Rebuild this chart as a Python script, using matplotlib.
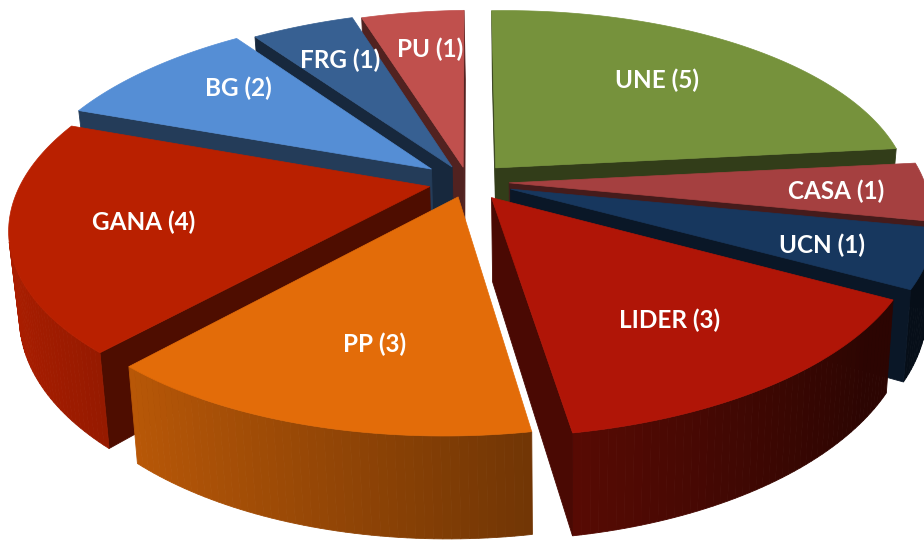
import numpy as np
import matplotlib
matplotlib.use("Agg")
import matplotlib.pyplot as plt
from matplotlib.colors import to_rgb

labels = ["UNE", "CASA", "UCN", "LIDER", "PP", "GANA", "BG", "FRG", "PU"]
seats = [5, 1, 1, 3, 3, 4, 2, 1, 1]
colors = ["#76923c", "#a54040", "#17375e", "#b01507", "#e36c09", "#b92000", "#558ed5", "#376092", "#c0504d"]
explode = [0.10, 0.10, 0.11, 0.10, 0.08, 0.095, 0.115, 0.09, 0.08]
label_r = [0.62, 0.85, 0.85, 0.62, 0.62, 0.72, 0.78, 0.85, 0.85]
label_nudge = [(5, -7), (-28, 1), (-40, -2), (14, 14), (3, 16), (14, 0), (32, -1), (18, 16), (11, 17)]
draw_order = [8, 7, 0, 6, 1, 2, 5, 3, 4]

CX, CY, RX, RY, P, H, TAPER, TILT = 468, 182, 412, 190, 0.18, 83, 0.02, 0.018
START = 0.5


def project(x, y, drop=0.0):
    w = 1 + P * y
    k = 1 - TAPER * (drop > 0)
    px = CX + k * RX * x / w
    py = CY - RY * y / w + drop / w
    return px + TILT * (py - CY), py - TILT * (px - CX)


def shade(col, f):
    return tuple(np.clip(np.array(to_rgb(col)) * f, 0, 1))


fig = plt.figure(figsize=(9.24, 5.40), dpi=100)
ax = fig.add_axes([0, 0, 1, 1])
ax.set_xlim(0, 924)
ax.set_ylim(540, 0)
ax.axis("off")

total = sum(seats)
edges = np.deg2rad(START + np.cumsum([0] + seats) / total * 360)

for i in draw_order:
    a0, a1 = edges[i], edges[i + 1]
    mid = (a0 + a1) / 2
    ox, oy = explode[i] * np.sin(mid), explode[i] * np.cos(mid)
    th = np.linspace(a0, a1, max(int(np.degrees(a1 - a0)), 6))
    wx = np.r_[ox, ox + np.sin(th)]
    wy = np.r_[oy, oy + np.cos(th)]
    n = len(wx)
    tx, ty = project(wx, wy)
    bx, by = project(wx, wy, H)
    col = colors[i]
    for j in range(n):
        k = (j + 1) % n
        qx = [tx[j], tx[k], bx[k], bx[j]]
        qy = [ty[j], ty[k], by[k], by[j]]
        area = 0.5 * sum(qx[m] * qy[(m + 1) % 4] - qx[(m + 1) % 4] * qy[m] for m in range(4))
        if area >= 0:
            continue
        if j == 0 or k == 0:
            f = 0.42
        else:
            ang = (th[j - 1] + th[min(j, len(th) - 1)]) / 2
            f = np.clip(0.55 - 0.38 * np.sin(ang), 0.25, 0.92)
        c = shade(col, f)
        ax.fill(qx, qy, color=c, lw=0.6, ec=c, zorder=1)
    ax.fill(tx, ty, color=col, lw=0.5, ec=col, zorder=1)
    rr = label_r[i]
    lx, ly = project(ox + rr * np.sin(mid), oy + rr * np.cos(mid))
    ax.text(lx + label_nudge[i][0], ly + label_nudge[i][1], f"{labels[i]} ({seats[i]})",
            color="white", ha="center", va="center",
            fontsize=17.5, fontweight="bold", family="Lato", zorder=5)

fig.savefig("out.png", dpi=100)
